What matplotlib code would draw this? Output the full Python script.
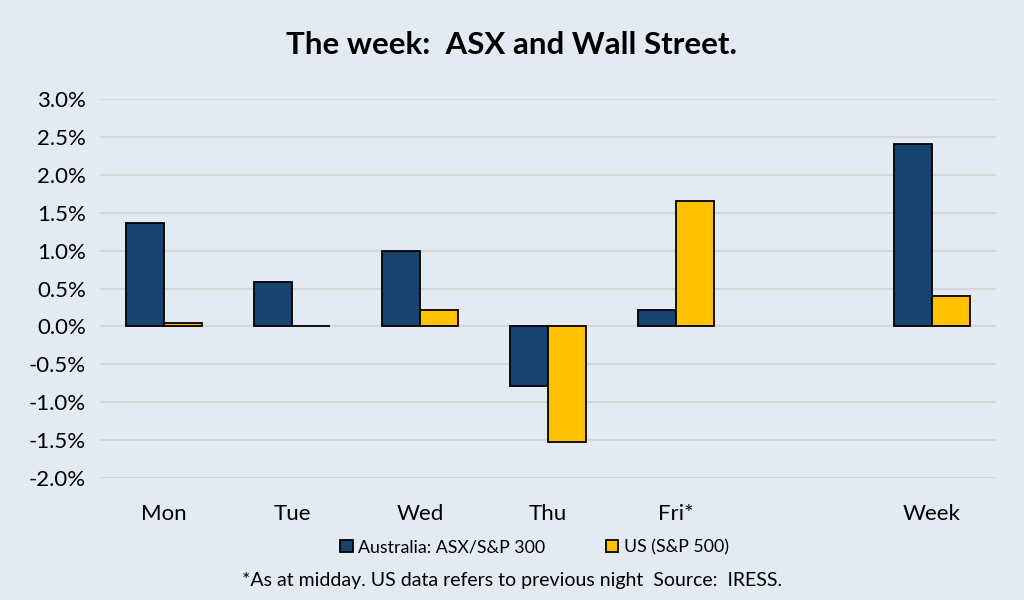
import matplotlib
matplotlib.use("Agg")
import matplotlib.pyplot as plt
import numpy as np
from matplotlib.ticker import FuncFormatter, MultipleLocator

categories = ["Mon", "Tue", "Wed", "Thu", "Fri*", "", "Week"]
asx = [1.37, 0.59, 1.00, -0.79, 0.22, np.nan, 2.40]
us = [0.05, 0.01, 0.21, -1.52, 1.66, np.nan, 0.40]
series_names = ["Australia: ASX/S&P 300", "US (S&P 500)"]

plt.rcParams['font.family'] = ['Lato', 'DejaVu Sans']
bg = "#E4EAF1"
navy = "#17446E"
gold = "#FFC000"

fig = plt.figure(figsize=(10.24, 6.0), dpi=100, facecolor=bg)
ax = fig.add_axes([0.0977, 0.2033, 0.875, 0.6317], facecolor=bg)

x = np.arange(len(categories))
w = 0.3
ax.bar(x - w/2, asx, w, color=navy, edgecolor="black", linewidth=1.3, label=series_names[0], zorder=3)
ax.bar(x + w/2, us, w, color=gold, edgecolor="black", linewidth=1.3, label=series_names[1], zorder=3)

ax.set_xlim(-0.5, len(categories) - 0.5)
ax.set_ylim(-2.0, 3.0)
ax.yaxis.set_major_locator(MultipleLocator(0.5))
ax.yaxis.set_major_formatter(FuncFormatter(lambda v, p: f"{v:.1f}%"))
ax.grid(axis="y", color="#D4D4D4", linewidth=1.3, zorder=0)
ax.set_xticks(x)
ax.set_xticklabels(categories)
ax.tick_params(axis="x", length=0, pad=19, labelsize=16)
ax.tick_params(axis="y", length=0, pad=10, labelsize=16)
for s in ax.spines.values():
    s.set_visible(False)

fig.text(0.5, 0.925, "The week:  ASX and Wall Street.", ha="center", va="center",
         fontsize=22.5, fontweight="bold")
leg = fig.legend(loc="center", bbox_to_anchor=(0.522, 0.088), ncol=2, frameon=False,
                 fontsize=12.8, handlelength=0.7, handleheight=0.7, handletextpad=0.3,
                 columnspacing=3.4)
fig.text(0.5, 0.033, "*As at midday. US data refers to previous night  Source:  IRESS.",
         ha="center", va="center", fontsize=14)

fig.savefig("out.png", dpi=100, facecolor=bg)
